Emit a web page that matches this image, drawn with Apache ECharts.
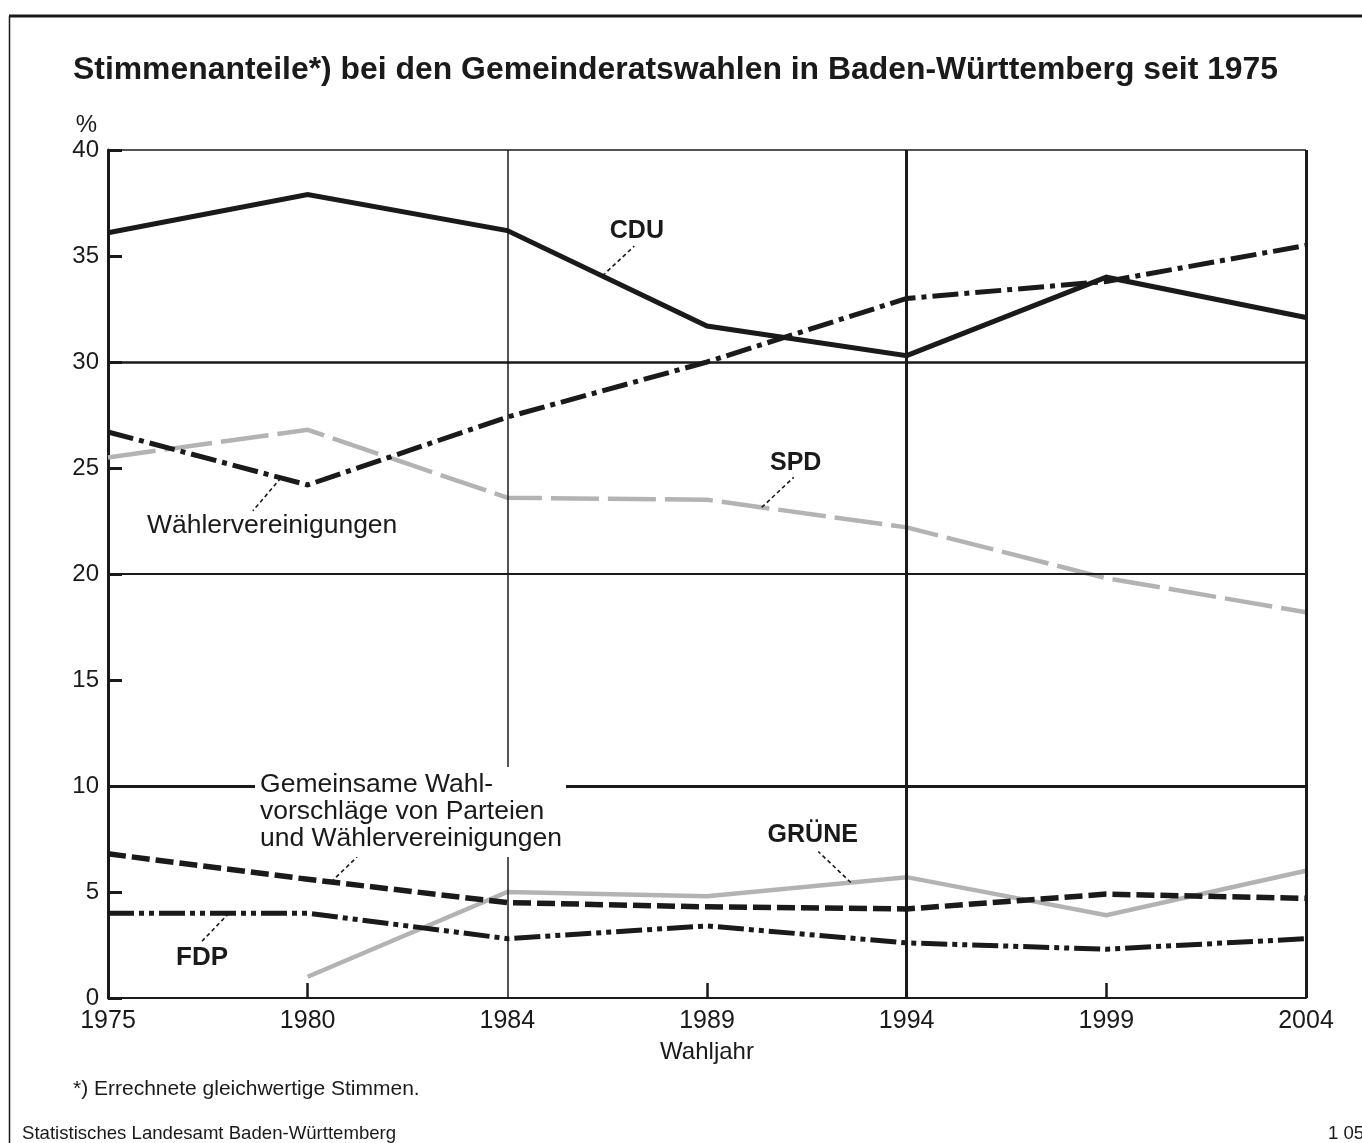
<!DOCTYPE html>
<html><head><meta charset="utf-8">
<script src="https://cdn.jsdelivr.net/npm/echarts@6/dist/echarts.min.js"></script>
<style>html,body{margin:0;padding:0;background:#fff}#c{width:1362px;height:1143px}</style>
</head><body><div id="c"></div>
<script>
// ---- data ----
const years = ['1975','1980','1984','1989','1994','1999','2004'];
const yTickLabels = ['0','5','10','15','20','25','30','35','40'];
const cdu       = [36.1, 37.9, 36.2, 31.7, 30.3, 34.0, 32.1];
const waehler   = [26.7, 24.2, 27.4, 30.0, 33.0, 33.8, 35.5];
const spd       = [25.5, 26.8, 23.6, 23.5, 22.2, 19.8, 18.2];
const gemeinsam = [6.8, 5.6, 4.5, 4.3, 4.2, 4.9, 4.7];
const gruene    = [null, 1.0, 5.0, 4.8, 5.7, 3.9, 6.0];
const fdp       = [4.0, 4.0, 2.8, 3.4, 2.6, 2.3, 2.8];

const FONT = '"Liberation Sans", Arial, Helvetica, sans-serif';
const INK = '#1a1a1a';
const GRAY = '#b3b3b3';

const chart = echarts.init(document.getElementById('c'), null, {renderer: 'canvas'});

function lineSeries(name, data, color, width, dash, z) {
  return {
    name, type: 'line', data, showSymbol: false, symbol: 'none', z: z || 3,
    connectNulls: false, silent: true,
    lineStyle: {color, width, type: dash || 'solid', cap: 'butt', join: 'miter'}
  };
}

const option = {
  animation: false,
  backgroundColor: '#fff',
  title: {
    text: 'Stimmenanteile*) bei den Gemeinderatswahlen in Baden-Württemberg seit 1975',
    left: 73, top: 54, padding: 0,
    textStyle: {fontFamily: FONT, fontSize: 31.9, fontWeight: 'bold', color: INK}
  },
  grid: {left: 108, right: 56, top: 150, bottom: 145, containLabel: false},
  xAxis: {
    type: 'category', data: years, boundaryGap: false,
    axisLine: {show: true, lineStyle: {color: INK, width: 2}},
    axisTick: {show: true, inside: true, length: 15, lineStyle: {color: INK, width: 2.5},
      interval: (i) => i === 1 || i === 3 || i === 5},
    axisLabel: {show: true, margin: 11, fontFamily: FONT, fontSize: 25, color: INK, interval: 0,
      showMinLabel: true, showMaxLabel: true},
    splitLine: {show: false}
  },
  yAxis: {
    type: 'value', min: 0, max: 40, interval: 5,
    axisLine: {show: true, onZero: false, lineStyle: {color: INK, width: 3}},
    axisTick: {show: true, inside: true, length: 14, lineStyle: {color: INK, width: 3}},
    axisLabel: {margin: 9, fontFamily: FONT, fontSize: 24, color: INK,
      formatter: (v) => yTickLabels[Math.round(v / 5)]},
    splitLine: {show: false}
  },
  series: [
    {
      name: 'grid', type: 'line', data: years.map(() => null), z: 1, silent: true,
      showSymbol: false, symbol: 'none', lineStyle: {width: 0},
      markLine: {
        silent: true, symbol: ['none', 'none'], label: {show: false}, animation: false,
        emphasis: {disabled: true},
        data: [
          {yAxis: 10, lineStyle: {color: INK, width: 3, type: 'solid'}},
          {yAxis: 20, lineStyle: {color: INK, width: 2, type: 'solid'}},
          {yAxis: 30, lineStyle: {color: INK, width: 2.5, type: 'solid'}},
          {yAxis: 40, lineStyle: {color: INK, width: 1.5, type: 'solid'}},
          {xAxis: '1984', lineStyle: {color: INK, width: 1.5, type: 'solid'}},
          {xAxis: '1994', lineStyle: {color: INK, width: 3, type: 'solid'}},
          {xAxis: '2004', lineStyle: {color: INK, width: 3, type: 'solid'}}
        ]
      }
    },
    lineSeries('SPD', spd, GRAY, 4.5, [48, 9], 2),
    lineSeries('GRÜNE', gruene, GRAY, 4.5, 'solid', 2),
    lineSeries('Wählervereinigungen', waehler, INK, 5, [26, 6, 5, 6], 3),
    lineSeries('Gemeinsame', gemeinsam, INK, 5.5, [18, 6], 3),
    lineSeries('FDP', fdp, INK, 5, [26, 5, 5, 5, 5, 5], 3),
    lineSeries('CDU', cdu, INK, 5, 'solid', 4)
  ]
};
chart.setOption(option);

// anchor point on a series line at fractional category index t
function anchor(arr, t) {
  const i = Math.floor(t), f = t - i;
  const a = chart.convertToPixel({gridIndex: 0}, [i, arr[i]]);
  const b = chart.convertToPixel({gridIndex: 0}, [i + 1, arr[i + 1]]);
  return [a[0] + (b[0] - a[0]) * f, a[1] + (b[1] - a[1]) * f];
}

const graphics = [];
function leader(p, dx, dy) {
  graphics.push({type: 'line', z: 90, silent: true,
    shape: {x1: p[0], y1: p[1], x2: p[0] + dx, y2: p[1] + dy},
    style: {stroke: INK, lineWidth: 1.6, lineDash: [4, 3]}});
}
function label(x, y, text, bold, size, align) {
  graphics.push({type: 'text', z: 100, silent: true, x, y,
    style: {text, fill: INK, font: (bold ? 'bold ' : '') + size + 'px ' + FONT,
      align: align || 'center', verticalAlign: 'middle'}});
}

// CDU
let p = anchor(cdu, 2.476);
leader(p, 32, -30); label(p[0] + 34.5, p[1] - 45, 'CDU', true, 25);
// SPD
p = anchor(spd, 3.274);
leader(p, 32, -30); label(p[0] + 34, p[1] - 44, 'SPD', true, 25);
// Wählervereinigungen
p = anchor(waehler, 0.866);
leader(p, -28, 33); label(p[0] - 134, p[1] + 48, 'Wählervereinigungen', false, 26.5, 'left');
// Gemeinsame Wahlvorschläge
p = anchor(gemeinsam, 1.117);
leader(p, 26, -25);
graphics.push({type: 'text', z: 100, silent: true, x: p[0] - 76, y: p[1] - 115,
  style: {text: 'Gemeinsame Wahl-\nvorschläge von Parteien\nund Wählervereinigungen',
    fill: INK, font: '26.5px ' + FONT, lineHeight: 27, align: 'left', verticalAlign: 'top',
    backgroundColor: '#fff', padding: [4, 4, 5, 5]}});
// GRÜNE
p = anchor(gruene, 3.72);
leader(p, -32.5, -31); label(p[0] - 38, p[1] - 47, 'GRÜNE', true, 25);
// FDP
p = anchor(fdp, 0.606);
leader(p, -27, 28); label(p[0] - 27, p[1] + 45, 'FDP', true, 26);

// axis titles, notes, frame
label(86.5, 125, '%', false, 24);
label(707, 1052, 'Wahljahr', false, 24);
label(73, 1089, '*) Errechnete gleichwertige Stimmen.', false, 21, 'left');
label(22, 1134, 'Statistisches Landesamt Baden-Württemberg', false, 18.6, 'left');
label(1328, 1134, '1 05', false, 18.6, 'left');
graphics.push({type: 'line', z: 100, silent: true, shape: {x1: 9, y1: 16, x2: 1362, y2: 16},
  style: {stroke: INK, lineWidth: 3}});
graphics.push({type: 'line', z: 100, silent: true, shape: {x1: 9.5, y1: 16, x2: 9.5, y2: 1143},
  style: {stroke: INK, lineWidth: 1.5}});

chart.setOption({graphic: graphics});
</script>
</body></html>
